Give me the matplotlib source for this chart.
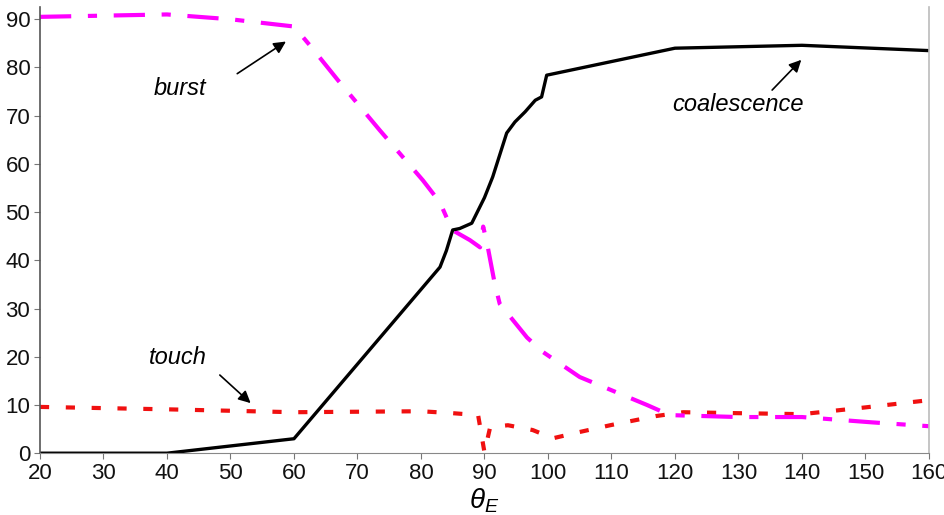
import numpy as np
import matplotlib
matplotlib.use('Agg')
import matplotlib.pyplot as plt

plt.rcParams['font.family'] = ['Liberation Sans', 'DejaVu Sans']
plt.rcParams['mathtext.fontset'] = 'custom'
plt.rcParams['mathtext.it'] = 'Liberation Sans:italic'
plt.rcParams['mathtext.rm'] = 'Liberation Sans'

# contact angle theta_E (deg) and percentages
coal_x = [20, 40, 60, 83, 84, 85, 86.1, 88, 90, 91.3, 92.8, 93.5, 94.8, 96.4, 98, 99, 99.8,
          120, 140, 160]
coal_y = [0, 0, 3, 38.6, 42, 46.3, 46.6, 47.7, 53, 57.3, 63.5, 66.4, 68.7, 70.8, 73.2, 73.9, 78.4,
          84, 84.6, 83.5]

burst_x = [20, 40, 50, 60, 62.5, 66.9, 73.5, 80.3, 83, 84.9, 87.7, 89.3, 89.8, 90.4, 91.6, 92.4,
           96.7, 99.2, 105, 115.6, 119.2, 130, 140, 151, 160]
burst_y = [90.5, 91, 90, 88.5, 84.6, 77.4, 67, 56.6, 52, 46.3, 44.2, 42.7, 47, 43.6, 35.3, 31,
           24, 21, 15.8, 10, 7.9, 7.5, 7.5, 6.4, 5.6]

touch_x = [20, 40, 60, 80, 85, 89, 90, 90.9, 93.7, 97.6, 100.8, 105, 109.8, 117, 121.3, 130, 140,
           150, 160]
touch_y = [9.6, 9.1, 8.5, 8.7, 8.3, 7.9, 0.2, 5.4, 5.8, 4.8, 3.1, 4.4, 5.8, 7.7, 8.5, 8.3, 8.1,
           9.5, 11]

x_ticks = list(range(20, 161, 10))
y_ticks = list(range(0, 91, 10))

fig = plt.figure(figsize=(9.45, 5.15), dpi=100)
ax = fig.add_axes([0.0423, 0.12, 0.9407, 0.866])

ax.plot(touch_x, touch_y, color='#f01010', lw=3.0, dashes=(2.2, 4.0))
ax.plot(burst_x, burst_y, color='#ff00ff', lw=3.0, dashes=(7.5, 4.0, 2.2, 4.0))
ax.plot(coal_x, coal_y, color='black', lw=2.4)

ax.set_xlim(20, 160)
ax.set_ylim(0, 92.5)
ax.set_xticks(x_ticks)
ax.set_yticks(y_ticks)
ax.tick_params(labelsize=16, length=4, width=0.8, colors='#777777', labelcolor='#111111', pad=3)

ax.spines['top'].set_visible(False)
ax.spines['left'].set_color('#555555')
ax.spines['left'].set_linewidth(1.2)
ax.spines['bottom'].set_color('#888888')
ax.spines['right'].set_color('#bbbbbb')
ax.spines['right'].set_linewidth(1.2)

ax.set_xlabel(r'$\theta_E$', fontsize=20, labelpad=2)

arrow = dict(arrowstyle='-|>', color='black', lw=1.2, mutation_scale=18)
ax.text(42, 75.7, 'burst', fontsize=17, style='italic', ha='center', va='center')
ax.annotate('', xy=(59.1, 85.7), xytext=(50.7, 78.4), arrowprops=arrow)
ax.text(41.7, 19.9, 'touch', fontsize=17, style='italic', ha='center', va='center')
ax.annotate('', xy=(53.5, 10), xytext=(48, 16.6), arrowprops=arrow)
ax.text(129.9, 72.4, 'coalescence', fontsize=17, style='italic', ha='center', va='center')
ax.annotate('', xy=(140.2, 82), xytext=(135, 74.9), arrowprops=arrow)

fig.savefig('out.png', dpi=100)
